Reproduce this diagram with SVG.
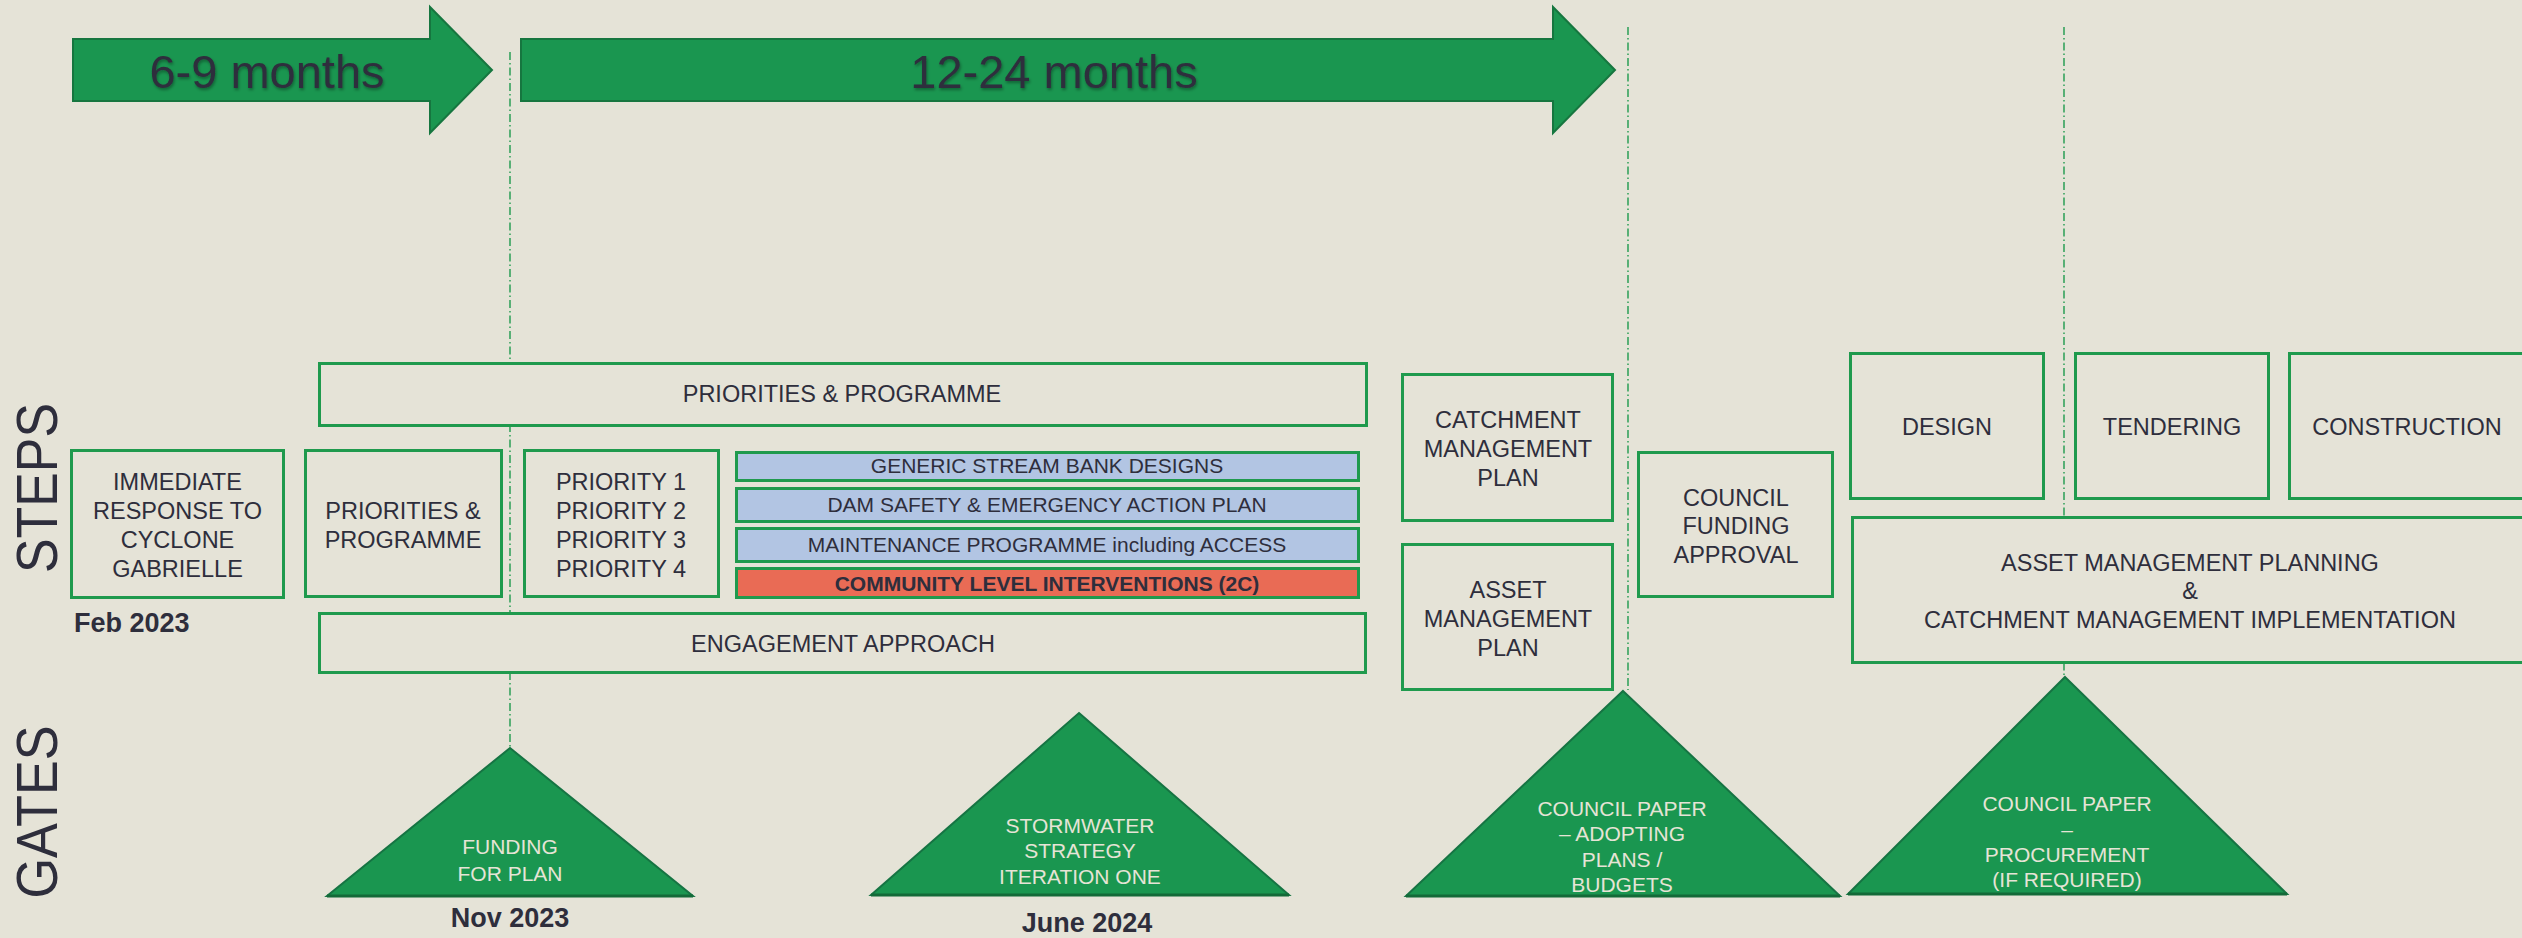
<svg xmlns="http://www.w3.org/2000/svg" width="2522" height="938" viewBox="0 0 2522 938">
<defs>
<style>
text{font-family:"Liberation Sans",Arial,sans-serif;fill:#2e2e3c;text-anchor:middle}
.box{fill:#e5e3d7;stroke:#1f9a4d;stroke-width:3}
.bar{fill:#b2c5e3;stroke:#1f9a4d;stroke-width:3}
.bar-red{fill:#e96b55;stroke:#1f9a4d;stroke-width:3}
.t{font-size:23.5px}
.tb{font-size:21px}
.tbb{font-size:21px;font-weight:bold}
.date{font-size:27px;font-weight:bold}
.arrow{fill:#1a9650;stroke:#16763f;stroke-width:2}
.atext{font-size:47px;filter:url(#sh)}
.tri{fill:#1a9650;stroke:#167443;stroke-width:2;stroke-linejoin:miter}
.tribase{stroke:#136a38;stroke-width:3}
.tt{font-size:21px;fill:#e6e4d6}
.dash{stroke:#1f9a4d;stroke-width:1.4;fill:none;stroke-dasharray:8 3 1.5 3}
.side{font-size:57px}
</style>
<filter id="sh" x="-10%" y="-20%" width="120%" height="150%">
<feDropShadow dx="1" dy="2" stdDeviation="1.5" flood-color="#000" flood-opacity="0.35"/>
</filter>
</defs>
<rect x="0" y="0" width="2522" height="938" fill="#e5e3d7"/>

<g id="connectors">
<line class="dash" x1="510" y1="52" x2="510" y2="748"/>
<line class="dash" x1="1628" y1="27" x2="1628" y2="690"/>
<line class="dash" x1="2064" y1="27" x2="2064" y2="677"/>
</g>

<g id="arrow-6-9">
<polygon class="arrow" points="73,39 430,39 430,7 492,70 430,133 430,101 73,101"/>
<text class="atext" x="267" y="88">6-9 months</text>
</g>
<g id="arrow-12-24">
<polygon class="arrow" points="521,39 1553,39 1553,7 1615,70 1553,133 1553,101 521,101"/>
<text class="atext" x="1054" y="88">12-24 months</text>
</g>

<g id="label-steps">
<text class="side" transform="translate(57,488) rotate(-90)" textLength="170" lengthAdjust="spacingAndGlyphs">STEPS</text>
</g>
<g id="label-gates">
<text class="side" transform="translate(57,812) rotate(-90)" textLength="173" lengthAdjust="spacingAndGlyphs">GATES</text>
</g>

<g id="immediate-response">
<rect class="box" x="71.5" y="450.5" width="212" height="147"/>
<text class="t" x="177.5" y="490">IMMEDIATE</text>
<text class="t" x="177.5" y="519">RESPONSE TO</text>
<text class="t" x="177.5" y="548">CYCLONE</text>
<text class="t" x="177.5" y="577">GABRIELLE</text>
</g>
<g id="date-feb-2023">
<text class="date" x="74" y="632" style="text-anchor:start">Feb 2023</text>
</g>

<g id="priorities-programme-small">
<rect class="box" x="305.5" y="450.5" width="196" height="146"/>
<text class="t" x="403" y="519">PRIORITIES &amp;</text>
<text class="t" x="403" y="548">PROGRAMME</text>
</g>

<g id="priorities-programme-top">
<rect class="box" x="319.5" y="363.5" width="1047" height="62"/>
<text class="t" x="842" y="402">PRIORITIES &amp; PROGRAMME</text>
</g>

<g id="priorities-list">
<rect class="box" x="524.5" y="450.5" width="194" height="146"/>
<text class="t" x="621" y="490">PRIORITY 1</text>
<text class="t" x="621" y="519">PRIORITY 2</text>
<text class="t" x="621" y="548">PRIORITY 3</text>
<text class="t" x="621" y="577">PRIORITY 4</text>
</g>

<g id="bar-stream-bank">
<rect class="bar" x="736.5" y="452.5" width="622" height="28"/>
<text class="tb" x="1047" y="473">GENERIC STREAM BANK DESIGNS</text>
</g>
<g id="bar-dam-safety">
<rect class="bar" x="736.5" y="488.5" width="622" height="33"/>
<text class="tb" x="1047" y="512">DAM SAFETY &amp; EMERGENCY ACTION PLAN</text>
</g>
<g id="bar-maintenance">
<rect class="bar" x="736.5" y="528.5" width="622" height="33"/>
<text class="tb" x="1047" y="552">MAINTENANCE PROGRAMME including ACCESS</text>
</g>
<g id="bar-community">
<rect class="bar-red" x="736.5" y="568.5" width="622" height="29"/>
<text class="tbb" x="1047" y="591">COMMUNITY LEVEL INTERVENTIONS (2C)</text>
</g>

<g id="engagement-approach">
<rect class="box" x="319.5" y="613.5" width="1046" height="59"/>
<text class="t" x="843" y="652">ENGAGEMENT APPROACH</text>
</g>

<g id="catchment-management-plan">
<rect class="box" x="1402.5" y="374.5" width="210" height="146"/>
<text class="t" x="1508" y="428">CATCHMENT</text>
<text class="t" x="1508" y="457">MANAGEMENT</text>
<text class="t" x="1508" y="486">PLAN</text>
</g>
<g id="asset-management-plan">
<rect class="box" x="1402.5" y="544.5" width="210" height="145"/>
<text class="t" x="1508" y="598">ASSET</text>
<text class="t" x="1508" y="627">MANAGEMENT</text>
<text class="t" x="1508" y="656">PLAN</text>
</g>

<g id="council-funding-approval">
<rect class="box" x="1638.5" y="452.5" width="194" height="144"/>
<text class="t" x="1736" y="506">COUNCIL</text>
<text class="t" x="1736" y="534">FUNDING</text>
<text class="t" x="1736" y="563">APPROVAL</text>
</g>

<g id="design">
<rect class="box" x="1850.5" y="353.5" width="193" height="145"/>
<text class="t" x="1947" y="435">DESIGN</text>
</g>
<g id="tendering">
<rect class="box" x="2075.5" y="353.5" width="193" height="145"/>
<text class="t" x="2172" y="435">TENDERING</text>
</g>
<g id="construction">
<rect class="box" x="2289.5" y="353.5" width="236" height="145"/>
<text class="t" x="2407" y="435">CONSTRUCTION</text>
</g>

<g id="asset-management-implementation">
<rect class="box" x="1852.5" y="517.5" width="676" height="145"/>
<text class="t" x="2190" y="571">ASSET MANAGEMENT PLANNING</text>
<text class="t" x="2190" y="599">&amp;</text>
<text class="t" x="2190" y="628">CATCHMENT MANAGEMENT IMPLEMENTATION</text>
</g>

<g id="gate-funding-for-plan">
<polygon class="tri" points="510,748 693,896 327,896"/>
<line class="tribase" x1="327" y1="896" x2="693" y2="896"/>
<text class="tt" x="510" y="854">FUNDING</text>
<text class="tt" x="510" y="881">FOR PLAN</text>
</g>
<g id="date-nov-2023">
<text class="date" x="510" y="927">Nov 2023</text>
</g>

<g id="gate-stormwater-strategy">
<polygon class="tri" points="1079,713 1289,895 871,895"/>
<line class="tribase" x1="871" y1="895" x2="1289" y2="895"/>
<text class="tt" x="1080" y="833">STORMWATER</text>
<text class="tt" x="1080" y="858">STRATEGY</text>
<text class="tt" x="1080" y="884">ITERATION ONE</text>
</g>
<g id="date-june-2024">
<text class="date" x="1087" y="932">June 2024</text>
</g>

<g id="gate-council-paper-adopting">
<polygon class="tri" points="1623,691 1840,896 1406,896"/>
<line class="tribase" x1="1406" y1="896" x2="1840" y2="896"/>
<text class="tt" x="1622" y="816">COUNCIL PAPER</text>
<text class="tt" x="1622" y="841">– ADOPTING</text>
<text class="tt" x="1622" y="867">PLANS /</text>
<text class="tt" x="1622" y="892">BUDGETS</text>
</g>

<g id="gate-council-paper-procurement">
<polygon class="tri" points="2065,677 2287,894 1848,894"/>
<line class="tribase" x1="1848" y1="894" x2="2287" y2="894"/>
<text class="tt" x="2067" y="811">COUNCIL PAPER</text>
<text class="tt" x="2067" y="837">–</text>
<text class="tt" x="2067" y="862">PROCUREMENT</text>
<text class="tt" x="2067" y="887">(IF REQUIRED)</text>
</g>
</svg>
